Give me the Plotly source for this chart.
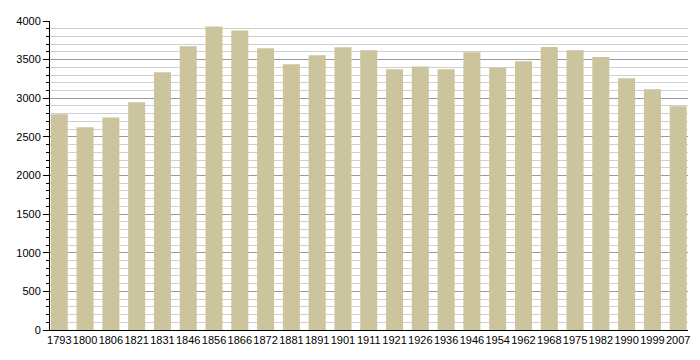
import plotly.graph_objects as go

years = ["1793", "1800", "1806", "1821", "1831", "1846", "1856", "1866", "1872", "1881",
         "1891", "1901", "1911", "1921", "1926", "1936", "1946", "1954", "1962", "1968",
         "1975", "1982", "1990", "1999", "2007"]
population = [2792, 2624, 2752, 2948, 3338, 3673, 3930, 3878, 3646, 3440,
              3556, 3660, 3620, 3374, 3410, 3374, 3596, 3396, 3478, 3662,
              3622, 3534, 3258, 3116, 2896]

fig = go.Figure(go.Bar(
    x=years, y=population,
    marker=dict(color="#CCC49C", line=dict(width=0)),
    width=0.66,
))

fig.update_layout(
    width=684, height=344,
    margin=dict(l=42, r=2, t=12.5, b=21.5),
    plot_bgcolor="white", paper_bgcolor="white",
    font=dict(family="Liberation Sans, Arial, sans-serif", size=11, color="black"),
    showlegend=False,
)
fig.update_xaxes(
    type="category", range=[-0.36, 24.38],
    showline=True, linecolor="black", linewidth=1,
    ticks="", tickangle=0, showgrid=False,
    tickfont=dict(size=11),
)
fig.update_yaxes(
    range=[0, 4000], dtick=500, tick0=0,
    showline=True, linecolor="black", linewidth=1,
    ticks="outside", ticklen=6, tickcolor="black",
    showgrid=True, gridcolor="#9a9a9a", gridwidth=1,
    minor=dict(dtick=100, showgrid=True, gridcolor="#d0d0d0", gridwidth=1,
               ticks="outside", ticklen=3, tickcolor="black"),
    zeroline=False,
    tickfont=dict(size=11),
)

fig.write_html("out.html")
